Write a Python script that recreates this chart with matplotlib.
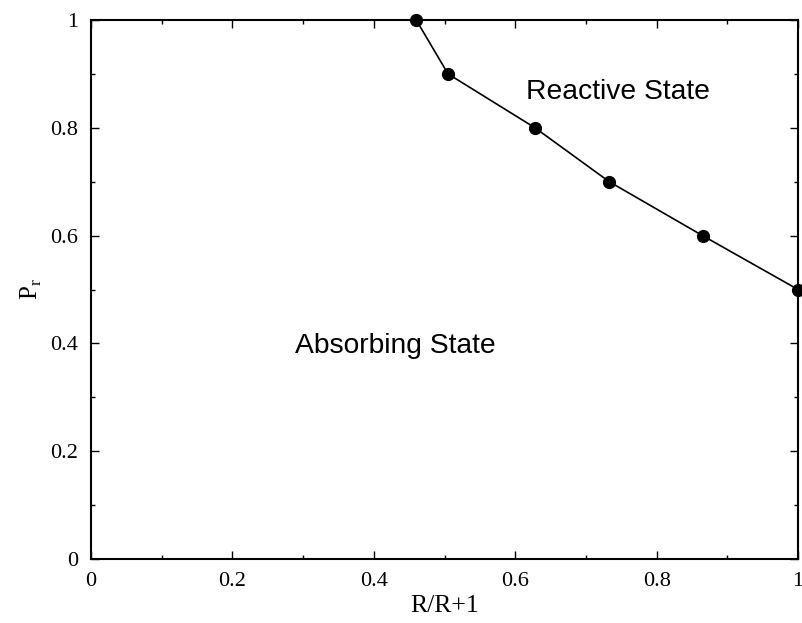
import matplotlib
matplotlib.use("Agg")
import matplotlib.pyplot as plt
from matplotlib.ticker import MultipleLocator

# phase boundary between absorbing and reactive states
ratio = [0.460, 0.505, 0.628, 0.733, 0.865, 1.0]
p_r = [1.0, 0.9, 0.8, 0.7, 0.6, 0.5]

xticks = [0, 0.2, 0.4, 0.6, 0.8, 1]
xtick_labels = ["0", "0.2", "0.4", "0.6", "0.8", "1"]
yticks = [0, 0.2, 0.4, 0.6, 0.8, 1]
ytick_labels = ["0", "0.2", "0.4", "0.6", "0.8", "1"]

fig = plt.figure(figsize=(8.03, 6.23), dpi=100)
ax = fig.add_axes([0.1133, 0.1027, 0.8805, 0.8652])

ax.plot(ratio, p_r, color="black", linewidth=1.2, marker="o",
        markersize=8.5, clip_on=False, zorder=3)

ax.set_xlim(0, 1)
ax.set_ylim(0, 1)
ax.set_xticks(xticks)
ax.set_xticklabels(xtick_labels)
ax.set_yticks(yticks)
ax.set_yticklabels(ytick_labels)
ax.xaxis.set_minor_locator(MultipleLocator(0.1))
ax.yaxis.set_minor_locator(MultipleLocator(0.1))
ax.tick_params(which="both", direction="in", top=True, right=True, width=1.0)
ax.tick_params(which="major", length=6, pad=9)
ax.tick_params(which="minor", length=3)
for lab in ax.get_xticklabels() + ax.get_yticklabels():
    lab.set_family("Liberation Serif")
    lab.set_fontsize(16)
for s in ax.spines.values():
    s.set_linewidth(1.5)

ax.set_xlabel("R/R+1", family="Liberation Serif", fontsize=18.5, labelpad=3)
ax.set_ylabel(r"P$_\mathregular{r}$", family="Liberation Serif", fontsize=18, labelpad=5)

ax.text(0.745, 0.866, "Reactive State", family="Liberation Sans",
        fontsize=20.3, ha="center", va="center")
ax.text(0.431, 0.395, "Absorbing State", family="Liberation Sans",
        fontsize=20.3, ha="center", va="center")

fig.savefig("out.png", dpi=100)
